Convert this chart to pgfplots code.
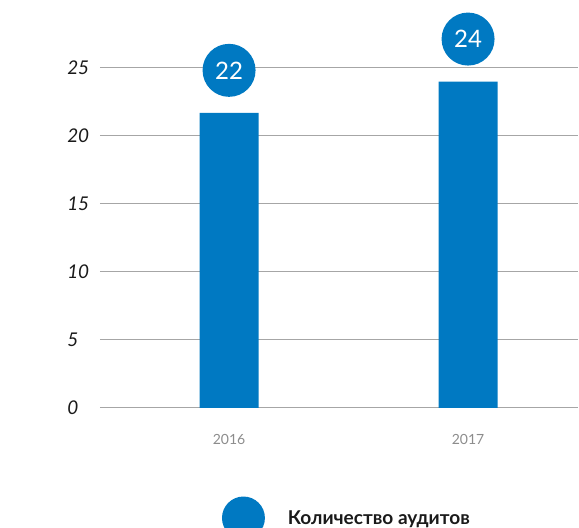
\documentclass[border=0pt]{standalone}
\usepackage{pgfplots}
\pgfplotsset{compat=1.18}
\usepackage{fontspec}
\setmainfont{Lato}
\definecolor{barblue}{HTML}{0079C2}
\definecolor{gridgray}{HTML}{A6A6A6}
\definecolor{yeargray}{HTML}{8C8C8C}
\definecolor{txt}{HTML}{1A1A1A}
\begin{document}
\begin{tikzpicture}
\clip (0,0) rectangle (434.25pt,396pt);
\begin{axis}[
 at={(75pt,90pt)}, anchor=south west,
 scale only axis, width=358.5pt, height=255pt,
 xmin=-0.54, xmax=1.46, ymin=0, ymax=25,
 clip=false,
 axis line style={draw=none},
 major tick length=0pt,
 ytick={0,5,...,25},
 xtick={0,1}, xticklabels={2016,2017},
 ymajorgrids, major grid style={gridgray, line width=0.75pt},
 /pgf/number format/assume math mode=true,
 yticklabel style={font=\fontsize{14.2}{16}\selectfont\itshape, anchor=west, inner sep=0pt, xshift=-24.75pt, text=txt},
 xticklabel style={font=\fontsize{10.5}{12}\selectfont, text=yeargray, anchor=center, inner sep=0pt, yshift=-23.25pt},
 ybar, bar width=44.25pt,
 nodes near coords={\pgfmathprintnumber[fixed,precision=0]{\pgfplotspointmeta}},
 nodes near coords style={circle, fill=barblue, text=white, minimum size=39.75pt, inner sep=0pt, anchor=center, yshift=31.9pt, font=\fontsize{18}{20}\selectfont},
 legend style={draw=none, fill=none, inner sep=0pt, outer sep=0pt,
   at={(0.2552,-0.3235)}, anchor=west,
   font=\fontsize{14.3}{16}\selectfont\bfseries, text=txt,
   nodes={inner sep=0pt},
   /tikz/every odd column/.append style={column sep=17.25pt}},
 legend image code/.code={\fill[barblue] (16.1pt,0.6pt) circle (16.1pt);},
]
\addplot[fill=barblue, draw=none] coordinates {(0,21.7) (1,24)};
\addlegendentry{Количество аудитов}
\end{axis}
\end{tikzpicture}
\end{document}
